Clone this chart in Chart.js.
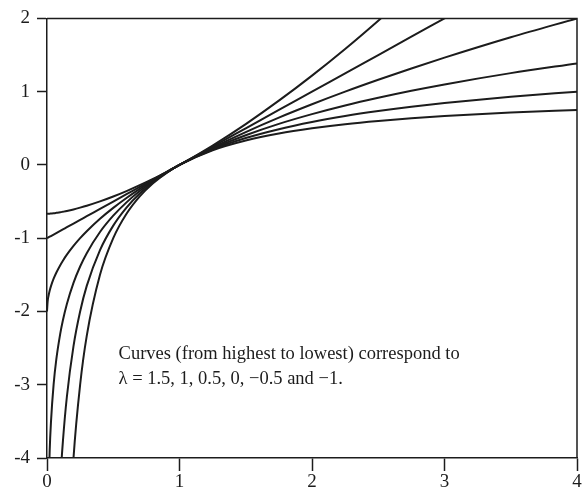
<!DOCTYPE html>
<html>
<head>
<meta charset="utf-8">
<script src="https://cdn.jsdelivr.net/npm/chart.js@4.4.1/dist/chart.umd.min.js"></script>
<style>
  html, body { margin: 0; padding: 0; background: #fff; }
  #wrap { width: 587px; height: 492px; }
</style>
</head>
<body>
<div id="wrap"><canvas id="boxcox"></canvas></div>
<script>
// shared x positions for all curves
const xs = [0, 0.005, 0.01, 0.02, 0.03, 0.05, 0.07, 0.1, 0.12, 0.15, 0.2, 0.25, 0.3, 0.4, 0.5,
            0.6, 0.7, 0.8, 0.9, 1, 1.25, 1.5, 1.75, 2, 2.25, 2.5, 2.75, 3, 3.5, 4];

// transformed values, one array per lambda (null = off the plot)
const lam15 = [-0.667, -0.666, -0.666, -0.665, -0.663, -0.659, -0.654, -0.646, -0.639, -0.628,
               -0.607, -0.583, -0.557, -0.498, -0.431, -0.357, -0.276, -0.190, -0.097, 0,
               0.265, 0.558, 0.877, 1.219, 1.583, 1.969, 2.374, 2.797, 3.699, 4.667];
const lam1 = [-1, -0.995, -0.99, -0.98, -0.97, -0.95, -0.93, -0.9, -0.88, -0.85,
              -0.8, -0.75, -0.7, -0.6, -0.5, -0.4, -0.3, -0.2, -0.1, 0,
              0.25, 0.5, 0.75, 1, 1.25, 1.5, 1.75, 2, 2.5, 3];
const lam05 = [-2, -1.859, -1.8, -1.717, -1.654, -1.553, -1.471, -1.368, -1.307, -1.225,
               -1.106, -1, -0.905, -0.735, -0.586, -0.451, -0.327, -0.211, -0.103, 0,
               0.236, 0.449, 0.646, 0.828, 1, 1.162, 1.317, 1.464, 1.742, 2];
const lam0 = [null, null, -4.605, -3.912, -3.507, -2.996, -2.659, -2.303, -2.120, -1.897,
              -1.609, -1.386, -1.204, -0.916, -0.693, -0.511, -0.357, -0.223, -0.105, 0,
              0.223, 0.405, 0.560, 0.693, 0.811, 0.916, 1.012, 1.099, 1.253, 1.386];
const lamM05 = [null, null, null, null, null, null, -5.559, -4.325, -3.774, -3.164,
                -2.472, -2, -1.651, -1.162, -0.828, -0.582, -0.390, -0.236, -0.108, 0,
                0.211, 0.367, 0.488, 0.586, 0.667, 0.735, 0.794, 0.845, 0.931, 1];
const lamM1 = [null, null, null, null, null, null, null, null, -7.333, -5.667,
               -4, -3, -2.333, -1.5, -1, -0.667, -0.429, -0.25, -0.111, 0,
               0.2, 0.333, 0.429, 0.5, 0.556, 0.6, 0.636, 0.667, 0.714, 0.75];

const xTicks = [0, 1, 2, 3, 4];
const yTicks = [-4, -3, -2, -1, 0, 1, 2];

const noteLines = [
  'Curves (from highest to lowest) correspond to',
  'λ = 1.5, 1, 0.5, 0, −0.5 and −1.'
];

const INK = '#1c1c1c';
const SERIF = '"Liberation Serif", "DejaVu Serif", serif';

function toPoints(ys) {
  const pts = [];
  xs.forEach((x, i) => {
    if (ys[i] !== null) pts.push({ x: x, y: ys[i] });
  });
  return pts;
}

const curves = [lam15, lam1, lam05, lam0, lamM05, lamM1].map(ys => ({
  data: toPoints(ys),
  borderColor: INK,
  borderWidth: 2,
  pointRadius: 0,
  fill: false,
  cubicInterpolationMode: 'monotone'
}));

// closes the box on the top and right sides
const frame = {
  id: 'frame',
  afterDatasetsDraw(chart) {
    const { ctx, chartArea: a } = chart;
    ctx.save();
    ctx.strokeStyle = INK;
    ctx.lineWidth = 1.5;
    ctx.beginPath();
    ctx.moveTo(a.left, a.top);
    ctx.lineTo(a.right, a.top);
    ctx.lineTo(a.right, a.bottom);
    ctx.stroke();
    ctx.restore();
  }
};

const note = {
  id: 'note',
  afterDraw(chart) {
    const { ctx, scales } = chart;
    const x0 = scales.x.getPixelForValue(0.54);
    const y0 = scales.y.getPixelForValue(-2.65);
    ctx.save();
    ctx.fillStyle = INK;
    ctx.font = '18.5px ' + SERIF;
    ctx.textBaseline = 'alphabetic';
    noteLines.forEach((line, i) => ctx.fillText(line, x0, y0 + i * 25));
    ctx.restore();
  }
};

new Chart(document.getElementById('boxcox'), {
  type: 'line',
  data: { datasets: curves },
  plugins: [frame, note],
  options: {
    responsive: true,
    maintainAspectRatio: false,
    animation: false,
    layout: { padding: { top: 17, right: 10, left: 0, bottom: 0 } },
    plugins: { legend: { display: false }, tooltip: { enabled: false } },
    scales: {
      x: {
        type: 'linear',
        min: 0,
        max: 4,
        afterBuildTicks: s => { s.ticks = xTicks.map(v => ({ value: v })); },
        afterFit: s => { s.height = 34; },
        ticks: { color: INK, font: { family: SERIF, size: 19 }, padding: 0 },
        grid: { drawOnChartArea: false, tickLength: 13, tickColor: INK, tickWidth: 1.5 },
        border: { color: INK, width: 1.5 }
      },
      y: {
        type: 'linear',
        min: -4,
        max: 2,
        afterBuildTicks: s => { s.ticks = yTicks.map(v => ({ value: v })); },
        afterFit: s => { s.width = 47; },
        ticks: { color: INK, font: { family: SERIF, size: 19 }, padding: 7 },
        grid: { drawOnChartArea: false, tickLength: 10, tickColor: INK, tickWidth: 1.5 },
        border: { color: INK, width: 1.5 }
      }
    }
  }
});
</script>
</body>
</html>
